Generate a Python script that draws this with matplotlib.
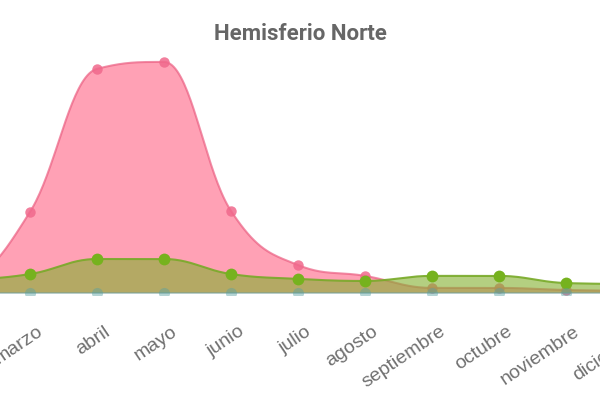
import numpy as np
import matplotlib
matplotlib.use("Agg")
import matplotlib.pyplot as plt

months = ["enero", "febrero", "marzo", "abril", "mayo", "junio", "julio",
          "agosto", "septiembre", "octubre", "noviembre", "diciembre"]
serie_rosa = [1.7, 4.8, 35.1, 97.0, 100.0, 35.5, 12.1, 7.4, 2.2, 2.2, 1.3, 0.9]
serie_verde = [4.8, 5.6, 8.2, 14.7, 14.7, 8.2, 6.1, 5.2, 7.4, 7.4, 4.3, 3.9]
serie_turquesa = [0, 0, 0, 0, 0, 0, 0, 0, 0, 0, 0, 0]

W, H = 600, 400
DPI = 100
fig = plt.figure(figsize=(6, 4), dpi=DPI)
fig.patch.set_facecolor("white")

# plot area: from top of figure to y=295 px
ax = fig.add_axes([0, (H - 295) / H, 1, 295 / H])
ax.set_xlim(1.552, 10.507)
ax.set_ylim(-0.87, 126.8)
ax.axis("off")

x = np.arange(len(months))


def spline(ax, xs, ys, n=40):
    """Highcharts-style spline through the points (smoothing 1.5)."""
    pts = ax.transData.transform(np.column_stack([xs, ys]).astype(float))
    N = len(pts)
    sm = 1.5
    den = sm + 1
    left = [None] * N
    right = [None] * N
    for i in range(N):
        px, py = pts[i]
        if 0 < i < N - 1:
            lx, ly = pts[i - 1]
            nx, ny = pts[i + 1]
            lcx = (sm * px + lx) / den
            lcy = (sm * py + ly) / den
            rcx = (sm * px + nx) / den
            rcy = (sm * py + ny) / den
            corr = 0.0
            if rcx != lcx:
                corr = ((rcy - lcy) * (rcx - px)) / (rcx - lcx) + py - rcy
            lcy += corr
            rcy += corr
            if lcy > ly and lcy > py:
                lcy = max(ly, py)
                rcy = 2 * py - lcy
            elif lcy < ly and lcy < py:
                lcy = min(ly, py)
                rcy = 2 * py - lcy
            if rcy > ny and rcy > py:
                rcy = max(ny, py)
                lcy = 2 * py - rcy
            elif rcy < ny and rcy < py:
                rcy = min(ny, py)
                lcy = 2 * py - rcy
            left[i] = np.array([lcx, lcy])
            right[i] = np.array([rcx, rcy])
        else:
            left[i] = pts[i].copy()
            right[i] = pts[i].copy()
    t = np.linspace(0, 1, n)[:, None]
    segs = []
    for i in range(N - 1):
        p0, p1, p2, p3 = pts[i], right[i], left[i + 1], pts[i + 1]
        seg = ((1 - t) ** 3) * p0 + 3 * ((1 - t) ** 2) * t * p1 + 3 * (1 - t) * t ** 2 * p2 + t ** 3 * p3
        segs.append(seg if i == 0 else seg[1:])
    curve = np.vstack(segs)
    return ax.transData.inverted().transform(curve).T


# pink series
cx, cy = spline(ax, x, serie_rosa)
ax.fill_between(cx, cy, 0, color=(1.0, 99 / 255, 132 / 255), alpha=0.6, lw=0, zorder=2)
ax.plot(cx, cy, color=(235 / 255, 95 / 255, 130 / 255), alpha=0.7, lw=1.5, zorder=3)
ax.plot(x, serie_rosa, "o", ms=7.5, color=(240 / 255, 105 / 255, 140 / 255), alpha=0.85,
        mec="none", zorder=4)

# green series
cx, cy = spline(ax, x, serie_verde)
ax.fill_between(cx, cy, 0, color=(130 / 255, 176 / 255, 46 / 255), alpha=0.6, lw=0, zorder=5)
ax.plot(cx, cy, color=(120 / 255, 170 / 255, 40 / 255), alpha=0.9, lw=1.5, zorder=6)
ax.plot(x, serie_verde, "o", ms=8.5, color=(118 / 255, 178 / 255, 30 / 255), mec="none", zorder=7)

# turquoise series (faded, at the baseline)
ax.plot(x, serie_turquesa, color=(0.45, 0.62, 0.60), lw=1.2, alpha=0.6, zorder=8)
ax.plot(x, serie_turquesa, "o", ms=8, color=(0.35, 0.63, 0.63), alpha=0.45, mec="none", zorder=8)

# category labels (rotated, anchored at top-right just right of each category)
px2pt = 72 / DPI
for i, m in enumerate(months):
    ax.annotate(m, xy=(i, 0), xycoords=("data", "axes fraction"),
                xytext=(7 * px2pt, -28 * px2pt), textcoords="offset points",
                rotation=34, ha="right", va="top", rotation_mode="anchor",
                fontsize=14, color="#707070", family="Liberation Sans",
                annotation_clip=False)

fig.text(0.5, 1 - 34 / H, "Hemisferio Norte", ha="center", va="center",
         fontsize=16, fontweight="bold", color="#666666", family="Roboto")

fig.savefig("out.png", dpi=DPI)
